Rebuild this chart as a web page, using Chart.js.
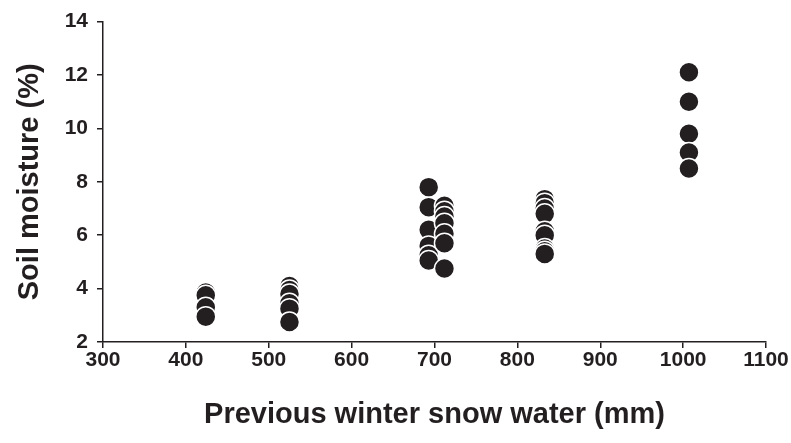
<!DOCTYPE html>
<html>
<head>
<meta charset="utf-8">
<script src="https://cdn.jsdelivr.net/npm/chart.js@4"></script>
<style>
  html, body { margin: 0; padding: 0; background: #fff; }
  #wrap { width: 791px; height: 443px; }
</style>
</head>
<body>
<div id="wrap"><canvas id="chart"></canvas></div>
<script>
// snow water (mm) for each group, and the soil moisture readings (%)
const snowX = [424, 525, 693, 712, 833, 1007];
const moisture = [
  [3.85, 3.75, 3.3, 2.95],
  [4.1, 3.95, 3.8, 3.45, 3.25, 2.75],
  [7.8, 7.05, 6.2, 5.6, 5.25, 5.05],
  [7.1, 6.9, 6.7, 6.45, 6.05, 5.7, 4.75],
  [7.35, 7.2, 7.0, 6.8, 6.15, 6.0, 5.5, 5.4, 5.3],
  [12.1, 11.0, 9.8, 9.1, 8.5]
];
const xTicks = [300, 400, 500, 600, 700, 800, 900, 1000, 1100];
const yTicks = [2, 4, 6, 8, 10, 12, 14];

const ink = "#231f20";
const points = [];
snowX.forEach((x, i) => moisture[i].forEach(y => points.push({ x: x, y: y })));

const tickFont = { family: "'Liberation Sans', Arial, sans-serif", size: 21, weight: "bold" };
const titleFont = { family: "'Liberation Sans', Arial, sans-serif", size: 29, weight: "bold" };

new Chart(document.getElementById("chart"), {
  type: "scatter",
  data: {
    datasets: [{
      data: points,
      pointRadius: 10,
      pointHoverRadius: 10,
      backgroundColor: ink,
      borderColor: "#ffffff",
      borderWidth: 1.5
    }]
  },
  options: {
    responsive: true,
    maintainAspectRatio: false,
    animation: false,
    layout: { padding: { left: 0, right: 25, top: 15, bottom: 0 } },
    plugins: { legend: { display: false }, tooltip: { enabled: false } },
    scales: {
      x: {
        type: "linear",
        min: 300, max: 1100,
        afterBuildTicks: s => { s.ticks = xTicks.map(v => ({ value: v })); },
        afterFit: s => { s.height = 101; },
        grid: { drawOnChartArea: false, tickLength: 6, color: ink, lineWidth: 1.5 },
        border: { color: ink, width: 1.5 },
        ticks: { color: ink, font: tickFont, padding: 0, maxRotation: 0, callback: v => String(v) },
        title: { display: true, text: "Previous winter snow water (mm)", color: ink, font: titleFont, padding: { top: 0, bottom: 11 } }
      },
      y: {
        type: "linear",
        min: 2, max: 14,
        afterBuildTicks: s => { s.ticks = yTicks.map(v => ({ value: v })); },
        afterFit: s => { s.width = 103; },
        grid: { drawOnChartArea: false, tickLength: 6, color: ink, lineWidth: 1.5 },
        border: { color: ink, width: 1.5 },
        ticks: { color: ink, font: tickFont, padding: 9, callback: v => String(v) },
        title: { display: true, text: "Soil moisture (%)", color: ink, font: titleFont, padding: { top: 13, bottom: 0 } }
      }
    }
  }
});
</script>
</body>
</html>
